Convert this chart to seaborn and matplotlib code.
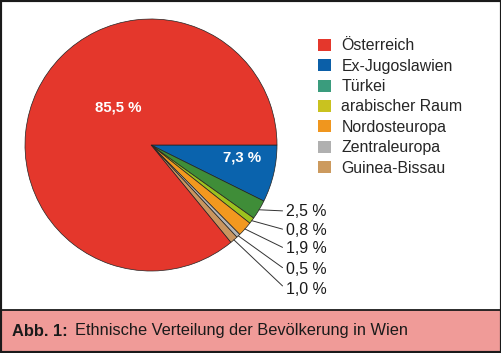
import matplotlib
matplotlib.use("Agg")
import matplotlib.pyplot as plt
import seaborn as sns
import numpy as np
from matplotlib.patches import Rectangle, Patch
from matplotlib.lines import Line2D

# Anteile in %, Reihenfolge im Uhrzeigersinn ab 3 Uhr
groups = ["Ex-Jugoslawien", "Türkei", "arabischer Raum", "Nordosteuropa",
          "Zentraleuropa", "Guinea-Bissau", "Österreich"]
shares = [7.3, 2.5, 0.8, 1.9, 0.5, 1.0, 85.5]
share_labels = ["7,3 %", "2,5 %", "0,8 %", "1,9 %", "0,5 %", "1,0 %", "85,5 %"]
wedge_colors = ["#0a63ad", "#3f8d38", "#9dc21e", "#f2981f", "#b4b4b4", "#c9955f", "#e4372c"]

legend_order = ["Österreich", "Ex-Jugoslawien", "Türkei", "arabischer Raum",
                "Nordosteuropa", "Zentraleuropa", "Guinea-Bissau"]
legend_colors = ["#e4372c", "#0b5fa8", "#3a9c7d", "#c9c21f", "#f0961e", "#b0b0b0", "#cc9a5e"]

sns.set_theme(style="white")
plt.rcParams["font.family"] = ["Liberation Sans", "DejaVu Sans"]

fig = plt.figure(figsize=(5.02, 3.53), dpi=100)

# caption bar + frame
fig.patches.append(Rectangle((0, 0), 1, 43 / 353, transform=fig.transFigure,
                             facecolor="#f09b98", edgecolor="none", zorder=0))
fig.lines.append(Line2D([0, 1], [43 / 353, 43 / 353], transform=fig.transFigure,
                        color="#1a1a1a", lw=1.3))
fig.patches.append(Rectangle((0, 0), 1, 1, transform=fig.transFigure,
                             fill=False, edgecolor="#1a1a1a", lw=3, zorder=5))
fig.text(12 / 502, 1 - 331 / 353, "Abb. 1:", fontsize=11.8, fontweight="bold",
         color="#1a1a1a", va="center", ha="left")
fig.text(75 / 502, 1 - 331 / 353, "Ethnische Verteilung der Bevölkerung in Wien",
         fontsize=11.8, color="#1a1a1a", va="center", ha="left")

# pie axes: centre (151,145) px, radius 126 px
ax = fig.add_axes([25 / 502, 82 / 353, 252 / 502, 252 / 353])
wedges, _ = ax.pie(shares, colors=wedge_colors, startangle=0, counterclock=False,
                   wedgeprops=dict(edgecolor="#222222", linewidth=0.5))
ax.set_xlim(-1, 1)
ax.set_ylim(-1, 1)
ax.axis("off")

ax.text(-0.262, 0.294, share_labels[6], color="white", fontsize=10.8,
        fontweight="bold", ha="center", va="center")
ax.text(0.722, -0.103, share_labels[0], color="white", fontsize=10.8,
        fontweight="bold", ha="center", va="center")

label_y = [-0.524, -0.675, -0.825, -0.992, -1.143]
for w, lab, ty in zip(wedges[1:6], share_labels[1:6], label_y):
    ang = np.deg2rad((w.theta1 + w.theta2) / 2)
    ax.annotate(lab, xy=(np.cos(ang), np.sin(ang)), xytext=(1.07, ty),
                fontsize=11.4, color="#1a1a1a", ha="left", va="center",
                annotation_clip=False,
                arrowprops=dict(arrowstyle="-", lw=0.7, color="#333333",
                                shrinkA=0, shrinkB=0, relpos=(0, 0.5)))

handles = [Patch(facecolor=c, edgecolor="none") for c in legend_colors]
fig.legend(handles, legend_order, loc="upper left",
           bbox_to_anchor=(312 / 502, 1 - 32 / 353), frameon=False,
           fontsize=11.4, handlelength=0.8, handleheight=0.8,
           handletextpad=0.65, labelspacing=0.34, borderaxespad=0)

fig.savefig("out.png", dpi=100)
